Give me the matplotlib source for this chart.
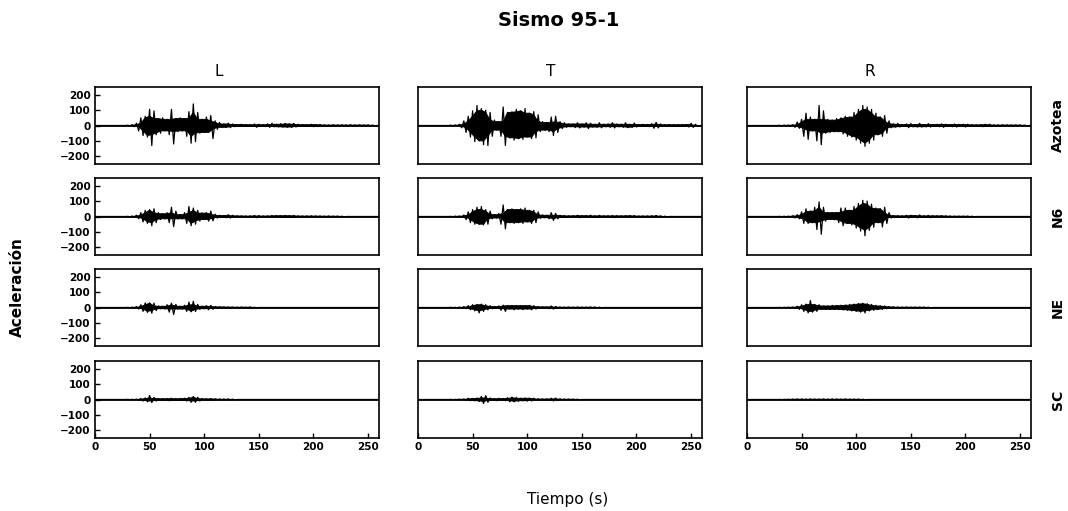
import numpy as np
import matplotlib.pyplot as plt

# Acceleration records, one sample every 2 s starting at t = 30 s (cm/s^2).
# Outside the listed samples the record sits at rest.
T0 = 30
DT = 2
T_END = 260

components = ['L', 'T', 'R']
stations = ['Azotea', 'N6', 'NE', 'SC']

azotea_L = [2, -3, 5, -8, 15, -35, 50, -65, 60, -75,
            105, -130, 95, -60, 45, -50, 50, -35, 40, -60,
            105, -120, 45, -40, 50, -35, 45, -70, 90, -115,
            140, -105, 85, -50, 40, -45, 55, -45, 65, -85,
            30, -25, 20, -12, 10, -12, 15, -14, 10, -8,
            6, -6, 8, -5, 6, -5, 5, -6, 10, -12,
            8, -6, 5, -5, 10, -12, 14, -8, 8, -10,
            12, -10, 14, -12, 10, -12, 14, -10, 8, -6,
            5, -5, 5, -6, 8, -8, 6, -7, 6, -5,
            4, -4, 3, -4, 5, -4, 3, -3, 4, -3,
            3, -4, 5, -4, 3, -3, 4, -3, 3, -3,
            3, -2, 3, -2]
azotea_T = [2, -2, 3, -5, 8, -15, 30, -45, 60, -75,
            95, -105, 130, -100, 110, -125, 100, -130, 85, -70,
            35, -30, 25, -70, 120, -130, 85, -80, 90, -95,
            105, -85, 95, -90, 110, -75, 80, -85, 90, -80,
            70, -40, 25, -30, 20, -40, 55, -65, 60, -45,
            25, -20, 18, -12, 10, -8, 10, -14, 18, -16,
            10, -10, 18, -20, 15, -10, 8, -12, 18, -15,
            8, -8, 10, -12, 18, -16, 10, -8, 8, -12,
            18, -14, 8, -12, 16, -10, 6, -6, 8, -6,
            6, -8, 12, -18, 20, -16, 10, -6, 5, -5,
            6, -5, 5, -6, 5, -5, 6, -5, 6, -10,
            14, -12, 8, -5]
azotea_R = [1, -1, 2, -2, 2, -3, 5, -12, 22, -18,
            40, -70, 80, -90, 55, -35, 40, -100, 130, -125,
            95, -50, 40, -45, 35, -40, 45, -40, 50, -55,
            60, -70, 55, -75, 85, -95, 105, -115, 130, -135,
            120, -115, 105, -95, 80, -60, 55, -70, 65, -50,
            30, -15, 10, -10, 14, -10, 6, -6, 10, -14,
            12, -8, 6, -10, 14, -10, 6, -8, 12, -10,
            6, -6, 8, -8, 10, -12, 8, -6, 6, -8,
            10, -10, 6, -5, 8, -10, 8, -5, 5, -5,
            4, -5, 6, -8, 8, -6, 8, -6, 4, -4,
            3, -4, 4, -3, 4, -3, 3, -3, 3, -3,
            3, -2, 3, -2]

n6_L = [1, -2, 3, -5, 8, -15, 25, -35, 40, -45,
        45, -60, 50, -40, 25, -20, 18, -15, 25, -40,
        60, -65, 35, -15, 12, -15, 25, -45, 65, -60,
        55, -50, 40, -30, 22, -20, 25, -30, 35, -28,
        15, -10, 8, -6, 6, -8, 12, -10, 8, -5,
        4, -4, 4, -3, 3, -4, 4, -5, 6, -8,
        6, -4, 3, -3, 4, -5, 6, -6, 5, -4,
        5, -6, 7, -6, 5, -6, 7, -5, 4, -4,
        3, -3, 3, -4, 4, -3, 3, -2, 3, -2,
        2, -2, 3, -2, 2, -2, 2, -2, 2, -2]
n6_T = [1, -1, 2, -2, 3, -5, 10, -20, 30, -40,
        45, -50, 60, -50, 65, -55, 45, -50, 35, -15,
        12, -10, 20, -50, 75, -80, 45, -40, 50, -45,
        45, -40, 50, -45, 55, -35, 40, -45, 40, -40,
        30, -12, 10, -8, 8, -15, 25, -25, 20, -15,
        8, -6, 6, -5, 4, -4, 5, -6, 8, -8,
        5, -4, 5, -6, 8, -6, 4, -5, 7, -6,
        4, -4, 4, -5, 6, -7, 5, -4, 4, -4,
        5, -6, 5, -4, 6, -5, 3, -3, 3, -3,
        3, -4, 5, -6, 6, -5, 4, -3, 2, -2]
n6_R = [1, -1, 1, -2, 2, -3, 5, -10, 12, -15,
        30, -45, 50, -45, 35, -40, 60, -85, 95, -115,
        60, -30, 25, -20, 25, -22, 25, -40, 55, -60,
        55, -45, 40, -55, 65, -75, 85, -95, 105, -125,
        100, -90, 80, -70, 55, -40, 50, -68, 60, -45,
        25, -10, 6, -5, 5, -5, 4, -5, 8, -10,
        8, -5, 6, -9, 10, -6, 4, -5, 7, -8,
        5, -4, 4, -4, 5, -5, 4, -3, 3, -3,
        2, -2, 2, -2, 2, -2, 2, -2, 2, -2]

ne_L = [1, -1, 2, -3, 5, -10, 18, -25, 30, -32,
        30, -37, 28, -20, 10, -8, 8, -10, 18, -30,
        28, -45, 20, -10, 8, -10, 15, -25, 35, -28,
        40, -26, 20, -12, 8, -8, 12, -15, 14, -12,
        6, -4, 4, -3, 4, -4, 3, -3, 3, -3,
        2, -2, 3, -2, 2, -2, 3, -2, 2, -2]
ne_T = [1, -1, 1, -2, 2, -3, 5, -8, 12, -15,
        18, -22, 20, -35, 22, -25, 18, -15, 12, -8,
        6, -6, 10, -18, 15, -25, 12, -10, 12, -15,
        12, -10, 12, -14, 12, -10, 14, -15, 12, -10,
        6, -4, 4, -3, 4, -8, 10, -10, 6, -4,
        3, -3, 2, -2, 3, -3, 2, -2, 3, -3,
        2, -2, 2, -2, 3, -2, 2, -2, 2, -2]
ne_R = [1, -1, 1, -1, 2, -2, 3, -5, 8, -12,
        18, -25, 22, -35, 45, -30, 20, -25, 18, -12,
        10, -12, 10, -12, 14, -12, 12, -14, 15, -16,
        15, -18, 20, -22, 22, -25, 26, -30, 28, -35,
        25, -22, 20, -18, 14, -12, 10, -12, 10, -8,
        6, -5, 4, -3, 3, -3, 2, -2, 3, -2,
        2, -2, 2, -2, 2, -2, 2, -2, 2, -2]

sc_L = [1, -1, 1, -2, 2, -3, 6, -10, 10, -15,
        26, -20, 14, -10, 6, -5, 5, -4, 6, -8,
        8, -6, 5, -6, 7, -6, 8, -10, 14, -18,
        20, -18, 15, -10, 6, -4, 4, -5, 6, -5,
        4, -3, 3, -2, 2, -2, 3, -2, 2, -2]
sc_T = [1, -1, 1, -1, 2, -2, 3, -6, 8, -8,
        7, -8, 10, -14, 20, -26, 25, -18, 10, -5,
        5, -8, 8, -5, 6, -8, 12, -15, 16, -15,
        14, -12, 8, -8, 10, -10, 9, -10, 8, -6,
        4, -3, 3, -3, 4, -6, 8, -10, 9, -7,
        4, -2, 2, -2, 2, -2, 2, -2, 2, -2]
sc_R = [1, -1, 1, -1, 2, -2, 2, -2, 3, -3,
        3, -3, 2, -2, 3, -3, 3, -3, 2, -2,
        3, -3, 2, -2, 3, -3, 3, -3, 2, -2,
        3, -3, 2, -2, 2, -2, 2, -2, 2, -2]

records = [[azotea_L, azotea_T, azotea_R],
           [n6_L, n6_T, n6_R],
           [ne_L, ne_T, ne_R],
           [sc_L, sc_T, sc_R]]

y_ticks = [-200, -100, 0, 100, 200]
x_ticks = [0, 50, 100, 150, 200, 250]


def full_record(vals):
    t = np.arange(0, T_END + DT, DT)
    a = np.zeros(len(t))
    i0 = T0 // DT
    a[i0:i0 + len(vals)] = vals
    return t, a


def core(tp, ap):
    # smallest of each peak and its two same-sign neighbours
    padded = np.r_[ap[:1], ap, ap[-1:]]
    return np.minimum(np.minimum(padded[:-2], padded[1:-1]), padded[2:])


def draw_record(ax, t, a):
    up = a >= 0
    dn = a <= 0
    t_up, a_up = t[up], core(t[up], a[up])
    t_dn, a_dn = t[dn], -core(t[dn], -a[dn])
    ax.fill(np.r_[t_up, t_dn[::-1]], np.r_[a_up, a_dn[::-1]], color='k', lw=0.6)
    ax.plot(t, a, color='k', lw=0.9)
    ax.axhline(0, color='k', lw=1.3)


fig = plt.figure(figsize=(10.68, 5.11), dpi=100)

col_left = [95, 418, 747]
row_top = [87, 178, 269, 361]
ax_w, ax_h = 284, 77

for r in range(4):
    for c in range(3):
        x0 = col_left[c] / 1068
        y0 = 1 - (row_top[r] + ax_h) / 511
        ax = fig.add_axes([x0, y0, ax_w / 1068, ax_h / 511])
        t, a = full_record(records[r][c])
        draw_record(ax, t, a)
        ax.set_xlim(0, 260)
        ax.set_ylim(-250, 250)
        for s in ax.spines.values():
            s.set_linewidth(1.2)
        ax.tick_params(direction='in', length=3.5, width=1.0,
                       labelsize=7.5, pad=3)
        if c == 0:
            ax.set_yticks(y_ticks)
            for lab in ax.get_yticklabels():
                lab.set_fontweight('bold')
        else:
            ax.set_yticks([])
        if r == 3:
            ax.set_xticks(x_ticks)
            for lab in ax.get_xticklabels():
                lab.set_fontweight('bold')
        else:
            ax.set_xticks([])

fig.text(559 / 1068, 1 - 21 / 511, 'Sismo 95-1', ha='center', va='center',
         fontsize=14, fontweight='bold')

for x, name in zip([219, 551, 870], components):
    fig.text(x / 1068, 1 - 71 / 511, name, ha='center', va='center', fontsize=11)

for r, name in enumerate(stations):
    yc = row_top[r] + ax_h / 2
    fig.text(1058 / 1068, 1 - yc / 511, name, ha='center', va='center',
             rotation=90, fontsize=10, fontweight='bold')

fig.text(17 / 1068, 1 - 287 / 511, 'Aceleración', ha='center', va='center',
         rotation=90, fontsize=11, fontweight='bold')
fig.text(568 / 1068, 1 - 499 / 511, 'Tiempo (s)', ha='center', va='center',
         fontsize=11)

fig.savefig('out.png', dpi=100)
